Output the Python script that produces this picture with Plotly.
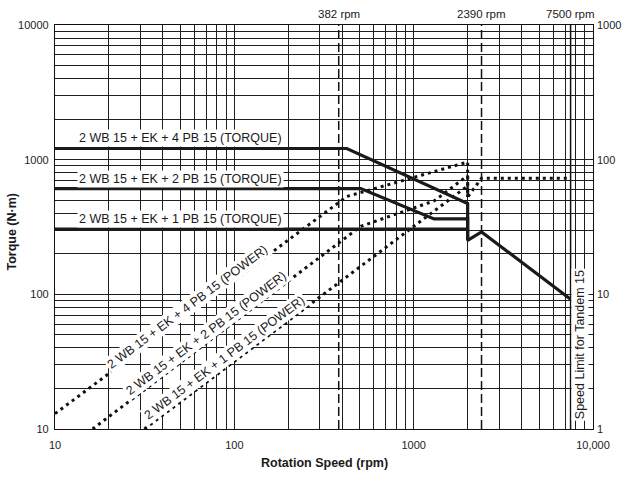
import math
import plotly.graph_objects as go

# ---- data ----
tq4_x = [10, 424, 2000, 2000, 2390, 7500]
tq4_y = [1210, 1210, 472, 252, 291, 92]
tq2_x = [10, 507, 1300, 2000, 2000]
tq2_y = [610, 610, 363, 363, 252]
tq1_x = [10, 2000]
tq1_y = [305, 305]

pw4_x = [10, 424, 2000, 2000, 2390, 7500]
pw4_y = [13, 533, 960, 528, 728, 728]
pw2_x = [16.2, 507, 1300, 2000, 2000]
pw2_y = [10, 320, 494, 760, 528]
pw1_x = [31.5, 2000, 2000]
pw1_y = [10, 639, 528]

speed_marks = [382, 2390]
speed_limit = 7500

x_ticks = [10, 100, 1000, 10000]
x_ticktext = ["10", "100", "1000", "10,000"]
y_ticks = [10, 100, 1000, 10000]
y_ticktext = ["10", "100", "1000", "10000"]
y2_ticks = [1, 10, 100, 1000]
y2_ticktext = ["1", "10", "100", "1000"]

x_minor = [m * d for d in (10, 100, 1000) for m in range(2, 10)]
y_minor = [m * d for d in (10, 100, 1000) for m in range(2, 10)]

FONT = "Liberation Sans, Arial, sans-serif"
GRID = "#1e1e1e"

fig = go.Figure()

# vertical reference lines
for s in speed_marks:
    fig.add_trace(go.Scatter(x=[s, s], y=[10, 10000], mode="lines",
                             line=dict(color="#111", width=1.5, dash="9px,4px"),
                             showlegend=False, hoverinfo="skip"))
fig.add_trace(go.Scatter(x=[speed_limit, speed_limit], y=[10, 10000], mode="lines",
                         line=dict(color="#111", width=1.5),
                         showlegend=False, hoverinfo="skip"))

# power (dotted)
for px, py in [(pw4_x, pw4_y), (pw2_x, pw2_y), (pw1_x, pw1_y)]:
    fig.add_trace(go.Scatter(x=px, y=py, mode="lines",
                             line=dict(color="#111", width=3, dash="3px,4px"),
                             showlegend=False, hoverinfo="skip"))

# torque (solid thick)
for tx, ty in [(tq4_x, tq4_y), (tq2_x, tq2_y), (tq1_x, tq1_y)]:
    fig.add_trace(go.Scatter(x=tx, y=ty, mode="lines",
                             line=dict(color="#1a1a1a", width=3.2),
                             showlegend=False, hoverinfo="skip"))

# empty trace for the right axis
fig.add_trace(go.Scatter(x=[], y=[], yaxis="y2", showlegend=False))

annos = []
lab_font = dict(family=FONT, size=12.5, color="#1a1a1a")
for txt, ylog in [("2 WB 15 + EK + 4 PB 15 (TORQUE)", 3.159),
                  ("2 WB 15 + EK + 2 PB 15 (TORQUE)", 2.855),
                  ("2 WB 15 + EK + 1 PB 15 (TORQUE)", 2.556)]:
    annos.append(dict(x=1.121, y=ylog, xref="x", yref="y", text=txt, showarrow=False,
                      xanchor="left", yanchor="middle", font=lab_font,
                      bgcolor="white", borderpad=1))
for txt, xl, yl in [("2 WB 15 + EK + 4 PB 15 (POWER)", 1.739, 1.907),
                    ("2 WB 15 + EK + 2 PB 15 (POWER)", 1.846, 1.710),
                    ("2 WB 15 + EK + 1 PB 15 (POWER)", 1.943, 1.530)]:
    annos.append(dict(x=xl, y=yl, xref="x", yref="y", text=txt, showarrow=False,
                      textangle=-36.9, font=lab_font, bgcolor="white", borderpad=1))
annos.append(dict(x=3.928, y=1.623, xref="x", yref="y", text="Speed Limit for Tandem 15",
                  showarrow=False, textangle=-90, font=lab_font, bgcolor="white", borderpad=1))
for s, lbl in [(382, "382 rpm"), (2390, "2390 rpm"), (7500, "7500 rpm")]:
    annos.append(dict(x=math.log10(s), y=1.028, xref="x", yref="paper", text=lbl,
                      showarrow=False, xanchor="center", yanchor="middle",
                      font=dict(family=FONT, size=11.5, color="#1a1a1a")))
# axis titles as paper annotations for exact placement
annos.append(dict(x=0.5, y=-0.085, xref="paper", yref="paper",
                  text="<b>Rotation Speed (rpm)</b>", showarrow=False,
                  xanchor="center", yanchor="middle",
                  font=dict(family=FONT, size=12.5, color="#1a1a1a")))
annos.append(dict(x=-0.079, y=0.49, xref="paper", yref="paper",
                  text="<b>Torque (N·m)</b>", showarrow=False, textangle=-90,
                  xanchor="center", yanchor="middle",
                  font=dict(family=FONT, size=12.5, color="#1a1a1a")))

axis_common = dict(type="log", showline=True, linecolor="#111", linewidth=1.2,
                   mirror=True, gridcolor=GRID, gridwidth=1, zeroline=False,
                   automargin=False,
                   tickfont=dict(family=FONT, size=11, color="#222"), ticks="")

fig.update_layout(
    width=623, height=477,
    margin=dict(l=55, r=30, t=24.5, b=48),
    paper_bgcolor="white", plot_bgcolor="white",
    xaxis=dict(range=[1, 4], tickmode="array", tickvals=x_ticks, ticktext=x_ticktext,
               minor=dict(tickvals=x_minor, showgrid=True, gridcolor=GRID, gridwidth=1),
               ticklabelstandoff=6,
               **axis_common),
    yaxis=dict(range=[1, 4], tickmode="array", tickvals=y_ticks, ticktext=y_ticktext,
               minor=dict(tickvals=y_minor, showgrid=True, gridcolor=GRID, gridwidth=1),
               ticklabelstandoff=3,
               **axis_common),
    yaxis2=dict(type="log", range=[0, 3], overlaying="y", side="right",
                tickmode="array", tickvals=y2_ticks, ticktext=y2_ticktext,
                showgrid=False, showline=False, zeroline=False, ticks="",
                automargin=False, ticklabelstandoff=3,
                tickfont=dict(family=FONT, size=11, color="#222")),
    annotations=annos,
)

fig.write_html("out.html", config={"displayModeBar": False},
               post_script="document.body.style.margin='0';document.body.style.overflow='hidden';")
